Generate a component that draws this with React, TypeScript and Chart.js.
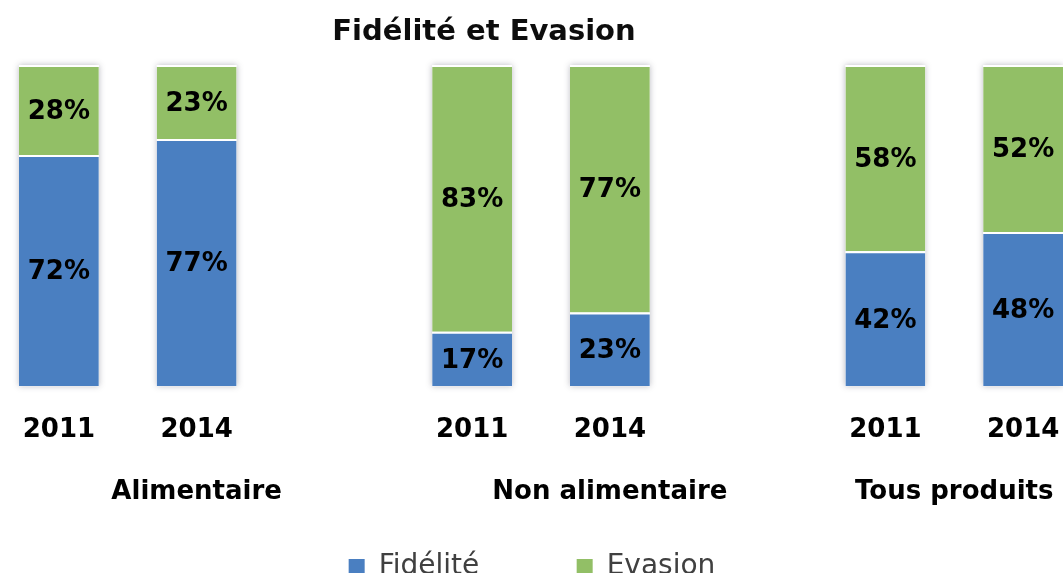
import React, { useEffect, useRef } from "react";
import { Chart, registerables } from "chart.js";

Chart.register(...registerables);

// ---- data ----
const slotLabels = ["2011", "2014", "", "2011", "2014", "", "2011", "2014"];
const slotGroup = [0, 0, 0, 1, 1, 1, 2, 2];
const groupLabels = ["Alimentaire", "Non alimentaire", "Tous produits"];
const fideliteValues = [72, 77, null, 17, 23, null, 42, 48];
const evasionValues = [28, 23, null, 83, 77, null, 58, 52];
const seriesNames = ["Fidélité", "Evasion"];
const chartTitle = "Fidélité et Evasion";

const BLUE = "#4A7FC1";
const GREEN = "#92BF66";
const FONT = '"DejaVu Sans", sans-serif';

const groupCenters = groupLabels.map((_, g) => {
  const idx = slotGroup.map((sg, i) => (sg === g ? i : -1)).filter((i) => i >= 0);
  return idx.reduce((a, b) => a + b, 0) / idx.length;
});

const shadowPlugin = {
  id: "barShadow",
  beforeDatasetsDraw(chart: any) {
    const ctx = chart.ctx;
    const m0 = chart.getDatasetMeta(0);
    const m1 = chart.getDatasetMeta(1);
    m0.data.forEach((el: any, i: number) => {
      const v = chart.data.datasets[0].data[i];
      if (v == null) return;
      const top = m1.data[i] ? Math.min(el.y, m1.data[i].y) : el.y;
      const bottom = el.base;
      ctx.save();
      ctx.shadowColor = "rgba(60,60,80,0.35)";
      ctx.shadowBlur = 6;
      ctx.fillStyle = "#ffffff";
      ctx.fillRect(el.x - el.width / 2, top, el.width, bottom - top);
      ctx.restore();
    });
  },
};

const valueLabelPlugin = {
  id: "valueLabels",
  afterDatasetsDraw(chart: any) {
    const ctx = chart.ctx;
    chart.data.datasets.forEach((ds: any, di: number) => {
      const meta = chart.getDatasetMeta(di);
      meta.data.forEach((el: any, i: number) => {
        const v = ds.data[i];
        if (v == null) return;
        ctx.save();
        ctx.font = `bold 26px ${FONT}`;
        ctx.fillStyle = "#000000";
        ctx.textAlign = "center";
        ctx.textBaseline = "middle";
        ctx.fillText(`${v}%`, el.x, (el.y + el.base) / 2 + 2);
        ctx.restore();
      });
    });
  },
};

export default function App() {
  const ref = useRef<HTMLCanvasElement | null>(null);

  useEffect(() => {
    if (!ref.current) return;
    const chart = new Chart(ref.current, {
      type: "bar",
      data: {
        labels: slotLabels,
        datasets: [
          {
            label: seriesNames[0],
            data: fideliteValues,
            backgroundColor: BLUE,
            borderColor: "#ffffff",
            borderWidth: { top: 2, right: 0, bottom: 0, left: 0 },
            barPercentage: 0.58,
            categoryPercentage: 1,
          },
          {
            label: seriesNames[1],
            data: evasionValues,
            backgroundColor: GREEN,
            borderColor: "#ffffff",
            borderWidth: { top: 2, right: 0, bottom: 0, left: 0 },
            barPercentage: 0.58,
            categoryPercentage: 1,
          },
        ],
      },
      options: {
        animation: false,
        responsive: false,
        events: [],
        layout: { padding: { top: 65, left: 0, right: 0, bottom: 0 } },
        scales: {
          x: {
            type: "category",
            stacked: true,
            offset: true,
            weight: 0,
            grid: { display: false, drawTicks: false },
            border: { display: false },
            afterFit: (scale: any) => {
              scale.height = 59.2;
            },
            ticks: {
              autoSkip: false,
              maxRotation: 0,
              padding: 27.9,
              color: "#000000",
              font: { family: FONT, size: 26, weight: "bold", lineHeight: 1.2 },
            },
          },
          xg: {
            type: "linear",
            position: "bottom",
            offset: false,
            min: -0.5,
            max: slotLabels.length - 0.5,
            weight: 1,
            grid: { display: false, drawTicks: false, offset: false },
            border: { display: false },
            afterBuildTicks: (scale: any) => {
              scale.ticks = groupCenters.map((v) => ({ value: v }));
            },
            afterFit: (scale: any) => {
              scale.height = 73.8;
            },
            ticks: {
              autoSkip: false,
              maxRotation: 0,
              padding: 30.7,
              color: "#000000",
              font: { family: FONT, size: 26, weight: "bold", lineHeight: 1.2 },
              callback: (_v: any, i: number) => groupLabels[i],
            },
          },
          y: {
            stacked: true,
            min: 0,
            max: 100,
            display: true,
            grid: { display: false, drawTicks: false },
            border: { display: false },
            ticks: { display: false },
            afterFit: (scale: any) => {
              scale.width = 18;
            },
          },
        },
        plugins: {
          title: { display: false },
          tooltip: { enabled: false },
          legend: {
            display: true,
            position: "bottom",
            onClick: () => {},
            labels: {
              boxWidth: 16,
              boxHeight: 16,
              padding: 33.7,
              color: "#404040",
              font: { family: FONT, size: 28 },
              generateLabels: (c: any) => {
                const base = Chart.defaults.plugins.legend.labels
                  .generateLabels(c)
                  .map((it: any) => ({ ...it, lineWidth: 0, strokeStyle: it.fillStyle }));
                const spacer = {
                  text: "",
                  fillStyle: "rgba(0,0,0,0)",
                  strokeStyle: "rgba(0,0,0,0)",
                  lineWidth: 0,
                  hidden: false,
                };
                return [base[0], spacer, base[1]];
              },
            },
          },
        },
      },
      plugins: [shadowPlugin, valueLabelPlugin],
    } as any);
    return () => chart.destroy();
  }, []);

  return (
    <div
      style={{
        position: "fixed",
        left: 0,
        top: 0,
        width: 1063,
        height: 573,
        overflow: "hidden",
        background: "#ffffff",
      }}
    >
      <div style={{ position: "absolute", left: -28, top: 0, width: 1120, height: 591 }}>
        <canvas ref={ref} width={1120} height={591} />
      </div>
      <div
        style={{
          position: "absolute",
          left: 484,
          top: 16,
          transform: "translateX(-50%)",
          fontFamily: FONT,
          fontWeight: "bold",
          fontSize: 29,
          lineHeight: "29px",
          whiteSpace: "nowrap",
          color: "#0d0d0d",
        }}
      >
        {chartTitle}
      </div>
    </div>
  );
}
